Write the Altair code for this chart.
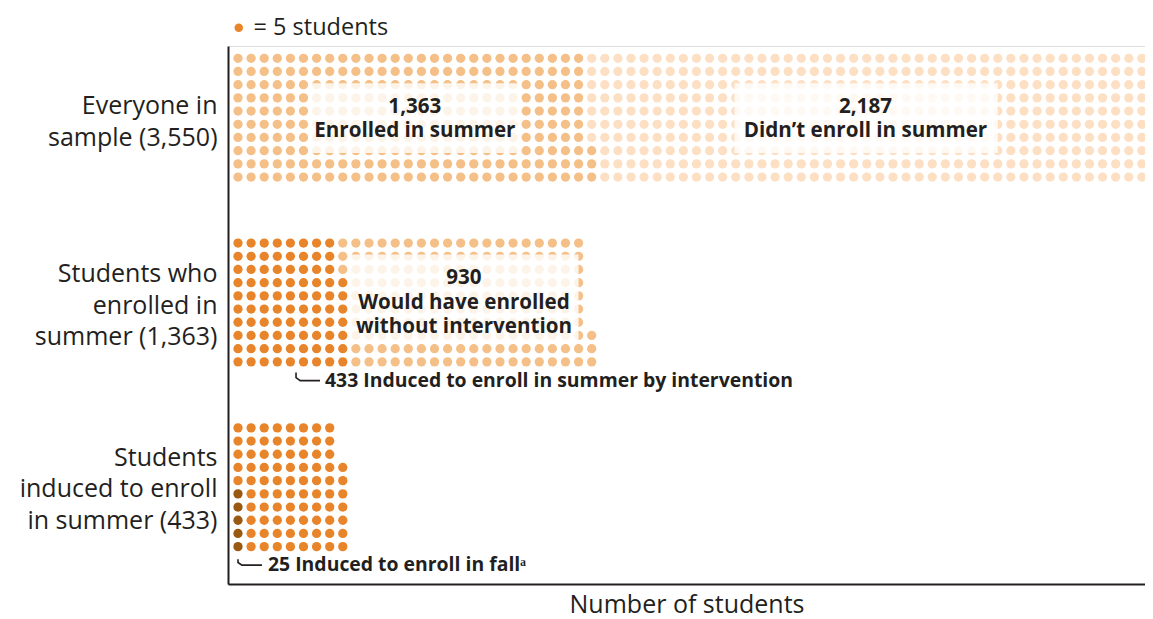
import json
import altair as alt
import pandas as pd

# ---------------- data ----------------
group_labels = [
    ["Everyone in", "sample (3,550)"],
    ["Students who", "enrolled in", "summer (1,363)"],
    ["Students", "induced to enroll", "in summer (433)"],
]
segment_names = [
    ["enrolled_summer", "not_enrolled"],
    ["induced", "would_have"],
    ["fall", "induced_summer"],
]
segment_students = [[1363, 2187], [433, 930], [25, 408]]
students_per_dot = 5
rows_per_column = 10
group_step = 14  # rows between the tops of the groups

seg_domain = ["enrolled_summer", "not_enrolled", "induced", "would_have", "fall", "induced_summer"]
seg_colors = ["#F5BF88", "#FDDFC4", "#E8852A", "#F5BF88", "#9A5913", "#E8852A"]

# first-line position of each group's label (in row units)
group_label_pos = [3.61, 16.34, 30.24]

box_x = [5.65, 37.9, 8.55]
box_x2 = [21.37, 58.0, 26.0]
box_y = [1.9, 1.9, 14.86]
box_y2 = [7.17, 7.17, 21.37]

label_x = [13.5, 47.9, 17.25]
label_y = [3.67, 3.67, 16.67]
label_text = ["1,363\nEnrolled in summer", "2,187\nDidn\u2019t enroll in summer",
              "930\nWould have enrolled\nwithout intervention"]

note_x = [6.64, 2.29]
note_y = [24.48, 38.4]
note_text = ["433 Induced to enroll in summer by intervention", "25 Induced to enroll in fall\u1d43"]

bracket_id = [0, 0, 0, 0, 1, 1, 1, 1]
bracket_order = [0, 1, 2, 3, 0, 1, 2, 3]
bracket_x = [4.43, 4.43, 4.75, 6.26, 0.0, 0.0, 0.3, 1.83]
bracket_y = [23.8, 24.2, 24.42, 24.42, 37.95, 38.2, 38.4, 38.4]

# ---------------- build tables ----------------
recs = []
for g, (names, counts) in enumerate(zip(segment_names, segment_students)):
    i = 0
    for name, c in zip(names, counts):
        n = round(c / students_per_dot)
        for _ in range(n):
            col = i // rows_per_column
            r = i % rows_per_column
            recs.append({"col": col, "row": g * group_step + (rows_per_column - 1 - r), "seg": name})
            i += 1
dots = pd.DataFrame(recs)

boxes = pd.DataFrame({"x": box_x, "x2": box_x2, "y": box_y, "y2": box_y2})
labels = pd.DataFrame({"x": label_x, "y": label_y, "t": label_text})
notes = pd.DataFrame({"x": note_x, "y": note_y, "t": note_text})
brackets = pd.DataFrame({"id": bracket_id, "o": bracket_order, "x": bracket_x, "y": bracket_y})

INK = "#231f20"
FONT = "Open Sans"
REG = 25

expr = (f"datum.value < 10 ? {json.dumps(group_labels[0])} : "
        f"datum.value < 24 ? {json.dumps(group_labels[1])} : {json.dumps(group_labels[2])}")

x_scale = alt.Scale(domain=[-0.763, 69.24], nice=False, zero=False)
y_scale = alt.Scale(domain=[-0.93, 39.83], nice=False, zero=False, reverse=True)

x_enc = alt.X("col:Q", scale=x_scale,
              axis=alt.Axis(title="Number of students", labels=False, ticks=False, grid=False,
                            titleFontSize=REG, titleFontWeight="normal", titleColor=INK,
                            titleFont=FONT, titlePadding=8, domainColor=INK, domainWidth=2))
y_enc = alt.Y("row:Q", scale=y_scale,
              axis=alt.Axis(title=None, values=group_label_pos, labelExpr=expr, ticks=False, grid=False,
                            labelFontSize=REG, labelFont=FONT, labelColor=INK, labelLineHeight=31.5,
                            labelPadding=11, labelLimit=400, labelBaseline="middle",
                            domainColor=INK, domainWidth=2))

dot_layer = alt.Chart(dots).mark_circle(size=86, opacity=1).encode(
    x=x_enc, y=y_enc,
    color=alt.Color("seg:N", scale=alt.Scale(domain=seg_domain, range=seg_colors),
                    legend=alt.Legend(values=["induced"], labelExpr="'= 5 students'", title=None,
                                      orient="none", legendX=-1, legendY=-30, symbolType="circle",
                                      symbolSize=72, labelFontSize=23.5, labelFont=FONT, labelColor=INK,
                                      labelOffset=3, padding=0)),
)

box_layer = alt.Chart(boxes).mark_rect(fill="white", opacity=0.82).encode(
    x=alt.X("x:Q", scale=x_scale), x2="x2:Q",
    y=alt.Y("y:Q", scale=y_scale), y2="y2:Q",
)

label_layer = alt.Chart(labels).mark_text(
    font=FONT, fontSize=20.6, fontWeight="bold", color=INK, align="center", baseline="middle",
    lineBreak="\n", lineHeight=24.5,
).encode(x=alt.X("x:Q", scale=x_scale), y=alt.Y("y:Q", scale=y_scale), text="t:N")

note_layer = alt.Chart(notes).mark_text(
    font=FONT, fontSize=19.4, fontWeight="bold", color=INK, align="left", baseline="middle",
).encode(x=alt.X("x:Q", scale=x_scale), y=alt.Y("y:Q", scale=y_scale), text="t:N")

bracket_layer = alt.Chart(brackets).mark_line(color=INK, strokeWidth=1.6).encode(
    x=alt.X("x:Q", scale=x_scale), y=alt.Y("y:Q", scale=y_scale), detail="id:N", order="o:Q",
)

chart = alt.layer(dot_layer, box_layer, label_layer, note_layer, bracket_layer).properties(
    width=917, height=538,
    autosize=alt.AutoSizeParams(type="none"),
    padding={"left": 220, "top": 38, "right": 0, "bottom": 35},
).configure_view(stroke=None).configure(background="white")

chart.save("out.html", embed_options={"renderer": "svg", "actions": False})
